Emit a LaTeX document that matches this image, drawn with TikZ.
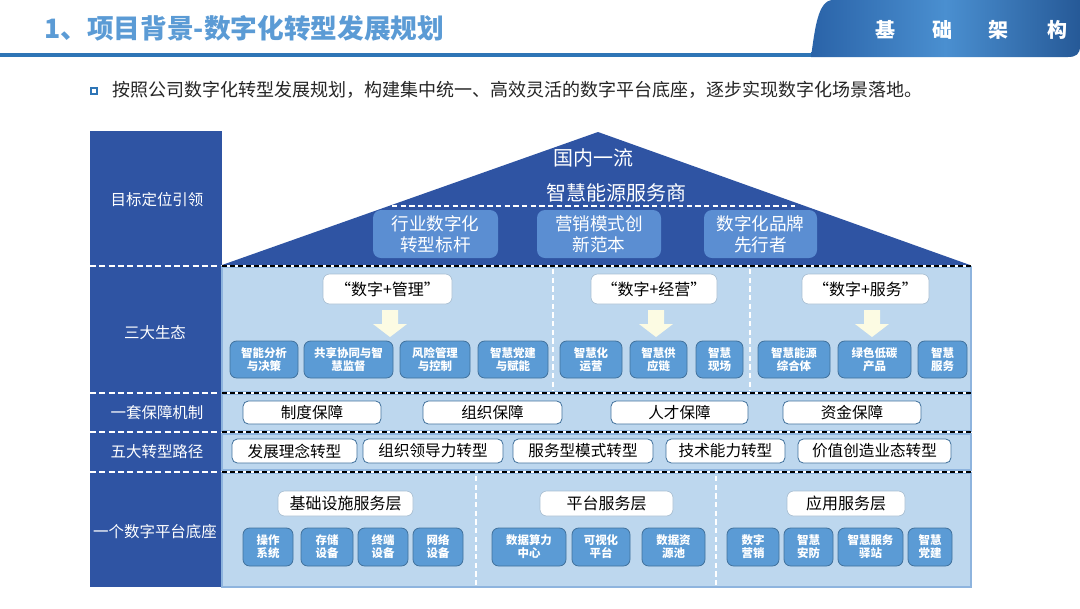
\documentclass[tikz,border=0pt]{standalone}
\usepackage{fontspec}
\setmainfont{Noto Sans CJK SC}
\definecolor{navy}{HTML}{2F54A3}
\definecolor{roofbox}{HTML}{5B8ED2}
\definecolor{secbg}{HTML}{BDD7EE}
\definecolor{secline}{HTML}{8EB4DE}
\definecolor{chip}{HTML}{5B9BD5}
\definecolor{chipline}{HTML}{41719C}
\definecolor{titleblue}{HTML}{5B9BD5}
\definecolor{rulecol}{HTML}{2E75B6}
\definecolor{arrowfill}{HTML}{FCFBE3}
\definecolor{tabdark}{HTML}{2A63A8}
\definecolor{tablight}{HTML}{4A8FD0}
\newcommand{\mybox}[7]{\node[#2, minimum width={(#5-#3)*0.75pt}, minimum height={(#6-#4)*0.75pt}] (#1) at ({(#3+#5)/2},{(#4+#6)/2}) {#7};}
\begin{document}
\begin{tikzpicture}[x=0.75pt,y=-0.75pt,
  roofchip/.style={fill=roofbox, rounded corners=6pt, text=white, align=center, inner sep=0,
    font=\fontsize{13.2}{15.8}\selectfont},
  rooftext/.style={text=white, font=\fontsize{15}{18}\selectfont},
  headbox/.style={draw=chipline!45, fill=white, rounded corners=5pt, inner sep=0, line width=0.5pt,
    font=\fontsize{12}{14}\selectfont},
  plainbox/.style={draw=chipline, fill=white, rounded corners=4pt, inner sep=0, line width=0.6pt,
    font=\fontsize{11.7}{14}\selectfont},
  chipbox/.style={draw=chipline, fill=chip, rounded corners=5pt, text=white, align=center, inner sep=0,
    line width=0.6pt, font=\fontsize{8.6}{9.8}\selectfont\bfseries},
  sidelabel/.style={text=white, font=\fontsize{11.6}{14}\selectfont},
  sidedash/.style={white, line width=1.5pt, dash pattern=on 4.5pt off 2.5pt},
  sepdash/.style={white, line width=1.3pt, dash pattern=on 4pt off 2.5pt},
  secrect/.style={draw=secline, fill=secbg, line width=0.8pt},
  bwdash/.style={black, line width=2.2pt, dash pattern=on 4pt off 2pt},
  blockarrow/.style={fill=arrowfill, draw=none},
  tabtext/.style={text=white, font=\fontsize{15}{18}\selectfont\bfseries}
]
\useasboundingbox (0,0) rectangle (1080,608);
\fill[white] (0,0) rectangle (1080,608);

% header
\node[anchor=west, text=titleblue, inner sep=0, font=\fontsize{20}{24}\selectfont\bfseries] (title) at (44,28) {1、项目背景-数字化转型发展规划};
\draw[rulecol, line width=2.3pt] (0,55) -- (816,55);
\shade[left color=tabdark, right color=tabdark!90!black, middle color=tablight]
  (811,57) .. controls (815,28) and (818,0) .. (833,0) -- (1080,0) -- (1080,46)
  .. controls (1080,54) and (1076,57) .. (1068,57) -- cycle;
\node[tabtext] (t1) at (885,30) {基};
\node[tabtext] (t2) at (942,30) {础};
\node[tabtext] (t3) at (998,30) {架};
\node[tabtext] (t4) at (1057,30) {构};

% bullet line
\node[draw=rulecol, line width=1.4pt, minimum size=5pt, inner sep=0] (bul) at (94,91) {};
\node[anchor=west, inner sep=0, text=black!85, font=\fontsize{13.5}{16}\selectfont] (intro) at (112,90)
  {按照公司数字化转型发展规划，构建集中统一、高效灵活的数字平台底座，逐步实现数字化场景落地。};

% left column
\fill[navy] (90,131) rectangle (222,587);
\draw[sidedash] (90,266) -- (222,266);
\draw[sidedash] (90,393) -- (222,393);
\draw[sidedash] (90,432) -- (222,432);
\draw[sidedash] (90,472) -- (222,472);
\node[sidelabel] (l1) at (157,200) {目标定位引领};
\node[sidelabel] (l2) at (155,333) {三大生态};
\node[sidelabel] (l3) at (157,413) {一套保障机制};
\node[sidelabel] (l4) at (157,452) {五大转型路径};
\node[sidelabel] (l5) at (155,532) {一个数字平台底座};

% roof
\fill[navy] (222,265) -- (598,132) -- (970,265) -- cycle;
\node[rooftext] (r1) at (593,158) {国内一流};
\node[rooftext] (r2) at (616,193) {智慧能源服务商};
\draw[sepdash] (392,206) -- (795,206);
\mybox{g1}{roofchip}{373}{210}{498}{258}{行业数字化\\转型标杆}
\mybox{g2}{roofchip}{537}{210}{661}{258}{营销模式创\\新范本}
\mybox{g3}{roofchip}{704}{210}{817}{258}{数字化品牌\\先行者}

% section backgrounds
\draw[secrect] (222,267) rectangle (971,392);
\draw[secrect] (222,394) rectangle (971,431);
\draw[secrect] (222,434) rectangle (971,470);
\draw[secrect] (222,473) rectangle (971,587);
\foreach \yy in {266,393,432,472}{
  \draw[white, line width=2.2pt] (222,\yy) -- (971,\yy);
  \draw[bwdash] (222,\yy) -- (971,\yy);
}

% three ecologies
\draw[sepdash] (553,269) -- (553,391);
\draw[sepdash] (750,269) -- (750,391);
\mybox{e1}{headbox}{323}{274}{452}{304}{“数字+管理”}
\mybox{e2}{headbox}{591}{274}{717}{304}{“数字+经营”}
\mybox{e3}{headbox}{802}{274}{929}{304}{“数字+服务”}
\foreach \cx in {390,656,872}{
  \fill[blockarrow] (\cx-8,310) -- (\cx+8,310) -- (\cx+8,324) -- (\cx+17,324) -- (\cx,337)
    -- (\cx-17,324) -- (\cx-8,324) -- cycle;
}
\mybox{c1}{chipbox}{230}{341}{298}{378}{智能分析\\与决策}
\mybox{c2}{chipbox}{304}{341}{393}{378}{共享协同与智\\慧监督}
\mybox{c3}{chipbox}{400}{341}{470}{378}{风险管理\\与控制}
\mybox{c4}{chipbox}{478}{341}{548}{378}{智慧党建\\与赋能}
\mybox{c5}{chipbox}{560}{341}{622}{378}{智慧化\\运营}
\mybox{c6}{chipbox}{630}{341}{687}{378}{智慧供\\应链}
\mybox{c7}{chipbox}{696}{341}{743}{378}{智慧\\现场}
\mybox{c8}{chipbox}{758}{341}{830}{378}{智慧能源\\综合体}
\mybox{c9}{chipbox}{838}{341}{911}{378}{绿色低碳\\产品}
\mybox{c10}{chipbox}{918}{341}{967}{378}{智慧\\服务}

% guarantees
\mybox{b1}{plainbox}{243}{401}{381}{424}{制度保障}
\mybox{b2}{plainbox}{423}{401}{562}{424}{组织保障}
\mybox{b3}{plainbox}{611}{401}{748}{424}{人才保障}
\mybox{b4}{plainbox}{783}{401}{921}{424}{资金保障}

% five paths
\mybox{p1}{plainbox}{232}{439}{357}{463}{发展理念转型}
\mybox{p2}{plainbox}{363}{439}{503}{463}{组织领导力转型}
\mybox{p3}{plainbox}{513}{439}{653}{463}{服务型模式转型}
\mybox{p4}{plainbox}{666}{439}{785}{463}{技术能力转型}
\mybox{p5}{plainbox}{798}{439}{951}{463}{价值创造业态转型}

% platform
\draw[sepdash] (476,476) -- (476,586);
\draw[sepdash] (716,476) -- (716,586);
\mybox{h1}{headbox}{278}{491}{413}{516}{基础设施服务层}
\mybox{h2}{headbox}{540}{491}{673}{516}{平台服务层}
\mybox{h3}{headbox}{787}{491}{905}{516}{应用服务层}
\mybox{d1}{chipbox}{243}{528}{293}{566}{操作\\系统}
\mybox{d2}{chipbox}{301}{528}{353}{566}{存储\\设备}
\mybox{d3}{chipbox}{358}{528}{408}{566}{终端\\设备}
\mybox{d4}{chipbox}{413}{528}{463}{566}{网络\\设备}
\mybox{d5}{chipbox}{492}{528}{566}{566}{数据算力\\中心}
\mybox{d6}{chipbox}{572}{528}{630}{566}{可视化\\平台}
\mybox{d7}{chipbox}{642}{528}{705}{566}{数据资\\源池}
\mybox{d8}{chipbox}{727}{528}{779}{566}{数字\\营销}
\mybox{d9}{chipbox}{784}{528}{833}{566}{智慧\\安防}
\mybox{d10}{chipbox}{838}{528}{903}{566}{智慧服务\\驿站}
\mybox{d11}{chipbox}{908}{528}{952}{566}{智慧\\党建}
\end{tikzpicture}
\end{document}
